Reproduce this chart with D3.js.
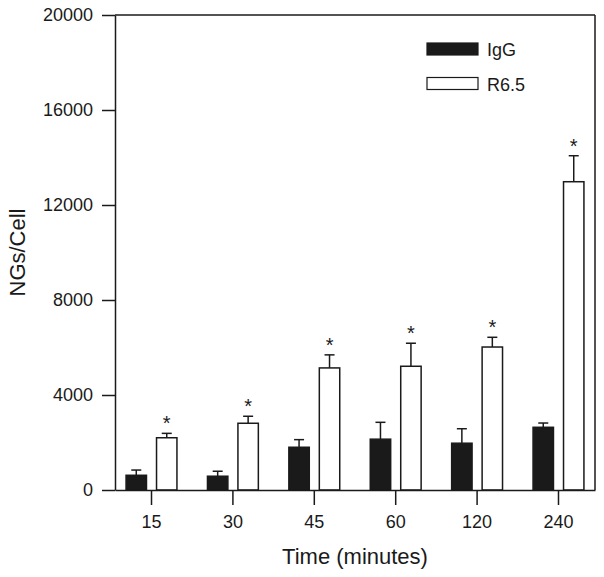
<!DOCTYPE html>
<html>
<head>
<meta charset="utf-8">
<script src="https://cdn.jsdelivr.net/npm/d3@7"></script>
<style>
  body { margin: 0; background: #fff; }
  text { font-family: "Liberation Sans", Arial, Helvetica, sans-serif; fill: #1a1a1a; }
</style>
</head>
<body>
<svg id="chart" width="604" height="577"></svg>
<script>
// data
const times = ['15', '30', '45', '60', '120', '240'];
const seriesNames = ['IgG', 'R6.5'];
const igg = [620, 580, 1800, 2140, 1970, 2640];
const iggErr = [220, 210, 320, 710, 610, 180];
const r65 = [2200, 2810, 5140, 5210, 6020, 12980];
const r65Err = [185, 295, 550, 970, 410, 1095];
const significant = [true, true, true, true, true, true];
const yTicks = [0, 4000, 8000, 12000, 16000, 20000];

const svg = d3.select('#chart');
const width = +svg.attr('width');
const height = +svg.attr('height');
const margin = { top: 15, right: 9, bottom: 87, left: 115 };
const ink = '#1a1a1a';

// scales
const x0 = d3.scaleBand()
    .domain(times)
    .range([margin.left, width - margin.right])
    .paddingInner(0.375)
    .paddingOuter(0.136);

const x1 = d3.scaleBand()
    .domain(seriesNames)
    .range([0, x0.bandwidth()])
    .paddingInner(0.33);

const y = d3.scaleLinear()
    .domain([0, 20000])
    .range([height - margin.bottom, margin.top]);

const rows = times.map((t, i) => [
    { time: t, series: 'IgG', value: igg[i], err: iggErr[i], star: false },
    { time: t, series: 'R6.5', value: r65[i], err: r65Err[i], star: significant[i] }
]).flat();

// frame: top and right border
svg.append('line')
    .attr('x1', margin.left).attr('x2', width - margin.right)
    .attr('y1', margin.top).attr('y2', margin.top)
    .attr('stroke', ink).attr('stroke-width', 1.5);
svg.append('line')
    .attr('x1', width - margin.right).attr('x2', width - margin.right)
    .attr('y1', margin.top).attr('y2', height - margin.bottom)
    .attr('stroke', ink).attr('stroke-width', 1.5);

// error bars (one sided, upward)
const err = svg.append('g').attr('stroke', ink).attr('stroke-width', 1.5);
err.selectAll('line.stem')
    .data(rows)
    .enter()
    .append('line')
    .attr('class', 'stem')
    .attr('x1', d => x0(d.time) + x1(d.series) + x1.bandwidth() / 2)
    .attr('x2', d => x0(d.time) + x1(d.series) + x1.bandwidth() / 2)
    .attr('y1', d => y(d.value))
    .attr('y2', d => y(d.value + d.err));
err.selectAll('line.cap')
    .data(rows)
    .enter()
    .append('line')
    .attr('class', 'cap')
    .attr('x1', d => x0(d.time) + x1(d.series) + x1.bandwidth() / 2 - 5)
    .attr('x2', d => x0(d.time) + x1(d.series) + x1.bandwidth() / 2 + 5)
    .attr('y1', d => y(d.value + d.err))
    .attr('y2', d => y(d.value + d.err));

// bars
svg.append('g')
    .selectAll('rect')
    .data(rows)
    .enter()
    .append('rect')
    .attr('x', d => x0(d.time) + x1(d.series))
    .attr('y', d => y(d.value))
    .attr('width', x1.bandwidth())
    .attr('height', d => y(0) - y(d.value))
    .attr('fill', d => d.series === 'IgG' ? ink : '#fff')
    .attr('stroke', ink)
    .attr('stroke-width', 1.5);

// significance stars
svg.append('g')
    .selectAll('text')
    .data(rows.filter(d => d.star))
    .enter()
    .append('text')
    .attr('x', d => x0(d.time) + x1(d.series) + x1.bandwidth() / 2)
    .attr('y', d => y(d.value + d.err) - 3)
    .attr('text-anchor', 'middle')
    .attr('font-size', 20)
    .text('*');

// y axis
const yAxis = svg.append('g')
    .attr('transform', `translate(${margin.left},0)`)
    .call(d3.axisLeft(y).tickValues(yTicks).tickFormat(d3.format('d')).tickSize(13).tickSizeOuter(0).tickPadding(9));
yAxis.selectAll('line, path').attr('stroke', ink).attr('stroke-width', 1.5);
yAxis.selectAll('text').attr('font-size', 18).attr('fill', ink).style('font-family', '"Liberation Sans", Arial, sans-serif');

// x axis
const xAxis = svg.append('g')
    .attr('transform', `translate(0,${height - margin.bottom})`)
    .call(d3.axisBottom(x0).tickSize(15).tickSizeOuter(0).tickPadding(10));
xAxis.selectAll('line, path').attr('stroke', ink).attr('stroke-width', 1.5);
xAxis.selectAll('text').attr('font-size', 18).attr('fill', ink).style('font-family', '"Liberation Sans", Arial, sans-serif');

// axis titles
svg.append('text')
    .attr('x', (margin.left + width - margin.right) / 2)
    .attr('y', 564)
    .attr('text-anchor', 'middle')
    .attr('font-size', 22)
    .text('Time (minutes)');

svg.append('text')
    .attr('transform', `translate(25,${(margin.top + height - margin.bottom) / 2}) rotate(-90)`)
    .attr('text-anchor', 'middle')
    .attr('font-size', 22)
    .text('NGs/Cell');

// legend
const legend = svg.append('g').attr('transform', 'translate(427,43)');
seriesNames.forEach((name, i) => {
    legend.append('rect')
        .attr('x', 0)
        .attr('y', i * 34.5)
        .attr('width', 51)
        .attr('height', 12)
        .attr('fill', name === 'IgG' ? ink : '#fff')
        .attr('stroke', ink)
        .attr('stroke-width', 1.2);
    legend.append('text')
        .attr('x', 60)
        .attr('y', i * 34.5 + 13)
        .attr('font-size', 18)
        .text(name);
});
</script>
</body>
</html>
